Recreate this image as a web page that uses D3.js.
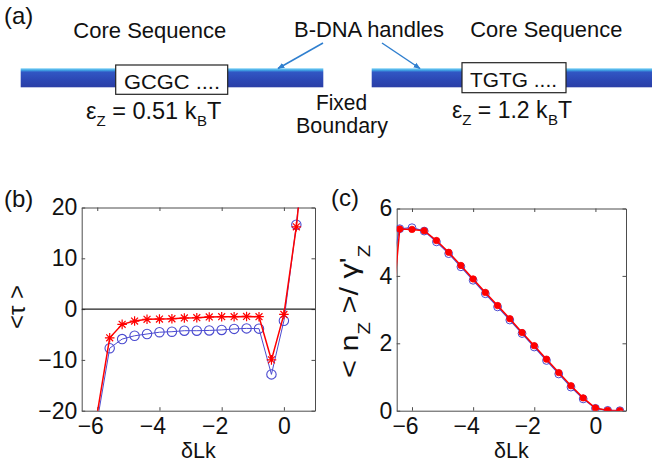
<!DOCTYPE html>
<html><head><meta charset="utf-8">
<script src="https://cdn.jsdelivr.net/npm/d3@7"></script>
<style>
body{margin:0;background:#fff}
svg{display:block}
text{font-family:"Liberation Sans",Arial,Helvetica,sans-serif;fill:#111}
</style>
</head><body>
<svg id="fig" width="652" height="463"></svg>
<script>
// ---------------- data ----------------
const panelLabels = ["(a)", "(b)", "(c)"];
const xLabel = "δLk";
const xTicks = [-6, -4, -2, 0];
const yTicksB = [-20, -10, 0, 10, 20];
const yTicksC = [0, 2, 4, 6];

// panel (b): <tau> vs dLk
const lkB = [-6.0, -5.6, -5.2, -4.8, -4.4, -4.0, -3.6, -3.2, -2.8, -2.4, -2.0, -1.6, -1.2, -0.8, -0.4, 0.0, 0.4, 0.8];
const tauRed = [-20.5, -5.65, -3.0, -2.35, -2.0, -1.95, -1.9, -1.75, -1.7, -1.55, -1.5, -1.5, -1.45, -1.5, -10.0, -1.05, 16.2, 40];
const tauBlue = [-22, -7.7, -5.9, -5.25, -4.9, -4.55, -4.45, -4.25, -4.25, -4.2, -4.1, -3.9, -3.8, -3.85, -12.85, -2.3, 16.6, 40];

// panel (c): <n_Z>/gamma'_Z vs dLk
const lkC = [-6.8, -6.4, -6.0, -5.6, -5.2, -4.8, -4.4, -4.0, -3.6, -3.2, -2.8, -2.4, -2.0, -1.6, -1.2, -0.8, -0.4, 0.0, 0.4, 0.8];
const nzRed = [1.43, 5.39, 5.38, 5.34, 5.05, 4.70, 4.31, 3.91, 3.51, 3.12, 2.73, 2.32, 1.93, 1.53, 1.13, 0.74, 0.38, 0.08, 0.01, 0.0];
const nzBlue = [3.8, 5.40, 5.43, 5.33, 5.01, 4.66, 4.27, 3.87, 3.47, 3.08, 2.69, 2.29, 1.89, 1.49, 1.09, 0.70, 0.35, 0.07, 0.01, 0.0];

// panel (a) texts
const coreLabel = "Core Sequence";
const handleLabel = "B-DNA handles";
const seqLeft = "GCGC ....";
const seqRight = "TGTG ....";
const boundaryLines = ["Fixed", "Boundary"];
const energyLeft = "0.51";
const energyRight = "1.2";

// ---------------- drawing ----------------
const svg = d3.select("#fig");
const RED = "#ff0000", BLUE = "#4b4bd0", AX = "#4d4d4d";
const FONT = '"Liberation Sans",Arial,Helvetica,sans-serif';
const TICKFONT = 23;

const defs = svg.append("defs");
const grad = defs.append("linearGradient").attr("id", "dna").attr("x1", 0).attr("y1", 0).attr("x2", 0).attr("y2", 1);
[[0, "#7fd2f5"], [0.1, "#3fa6e6"], [0.2, "#3157c4"], [0.6, "#2c48b5"], [1, "#2a3ea6"]]
  .forEach(([o, c]) => grad.append("stop").attr("offset", o).attr("stop-color", c));
defs.append("marker").attr("id", "arr").attr("viewBox", "0 0 10 10").attr("refX", 9).attr("refY", 5)
  .attr("markerWidth", 7).attr("markerHeight", 7).attr("orient", "auto").attr("markerUnits", "userSpaceOnUse")
  .append("path").attr("d", "M0,1 L10,5 L0,9 Z").attr("fill", "#2f7fcf");

// ----- panel (a) -----
const A = svg.append("g");
A.append("text").attr("x", 4).attr("y", 24).attr("font-size", 24).text(panelLabels[0]);
A.append("rect").attr("x", 20.7).attr("y", 68.3).attr("width", 302.6).attr("height", 19).attr("fill", "url(#dna)");
A.append("rect").attr("x", 371.7).attr("y", 68.3).attr("width", 281).attr("height", 19).attr("fill", "url(#dna)");
A.append("rect").attr("x", 115.7).attr("y", 65).attr("width", 112).attr("height", 29.3).attr("fill", "#fff").attr("stroke", "#222").attr("stroke-width", 1.2);
A.append("rect").attr("x", 462).attr("y", 62.7).attr("width", 104).attr("height", 30).attr("fill", "#fff").attr("stroke", "#222").attr("stroke-width", 1.2);
A.append("line").attr("x1", 323).attr("y1", 43).attr("x2", 278).attr("y2", 68.5).attr("stroke", "#2f7fcf").attr("stroke-width", 1.5).attr("marker-end", "url(#arr)");
A.append("line").attr("x1", 382).attr("y1", 43).attr("x2", 420).attr("y2", 68.5).attr("stroke", "#2f7fcf").attr("stroke-width", 1.5).attr("marker-end", "url(#arr)");

function fitText(g, x, y, size, str, len) {
  g.append("text").attr("x", x).attr("y", y).attr("font-size", size)
    .attr("textLength", len).attr("lengthAdjust", "spacingAndGlyphs").text(str);
}
fitText(A, 73.3, 37.5, 22.5, coreLabel, 153);
fitText(A, 294, 37, 22.5, handleLabel, 150);
fitText(A, 470.3, 37, 22.5, coreLabel, 152);
fitText(A, 124, 89.3, 20, seqLeft, 96);
fitText(A, 470, 87.3, 20, seqRight, 87);
fitText(A, 316, 110, 22.5, boundaryLines[0], 51);
fitText(A, 296, 133.3, 22.5, boundaryLines[1], 92);

function energy(x, y, val, size) {
  const t = A.append("text").attr("x", x).attr("y", y).attr("font-size", size);
  t.append("tspan").text("ε");
  t.append("tspan").attr("font-size", 15).attr("dy", 7).text("Z");
  t.append("tspan").attr("dy", -7).text(" = " + val + " k");
  t.append("tspan").attr("font-size", 15).attr("dy", 7).attr("dx", 0.5).text("B");
  t.append("tspan").attr("dy", -7).text("T");
}
energy(86, 119, energyLeft, 23.5);
energy(452, 118, energyRight, 23);

// ----- generic axes panel -----
function panel(cfg) {
  const g = svg.append("g");
  const x = d3.scaleLinear().domain([-6.5, 1]).range([cfg.left, cfg.right]);
  const y = d3.scaleLinear().domain(cfg.ydom).range([cfg.bottom, cfg.top]);
  const T = 3.5;
  const fmt = d3.format("d");
  const style = sel => {
    sel.attr("font-family", FONT).attr("font-size", TICKFONT);
    sel.selectAll("path,line").attr("stroke", AX).attr("stroke-width", 1);
    sel.selectAll("text").attr("fill", "#111");
  };
  g.append("g").attr("transform", `translate(0,${cfg.bottom})`)
    .call(d3.axisBottom(x).tickValues(xTicks).tickFormat(fmt).tickSize(-T).tickSizeOuter(0).tickPadding(6.5))
    .call(style)
    .call(s => s.selectAll(".tick text").attr("dx", d => d < 0 ? -7 : 0));
  g.append("g").attr("transform", `translate(0,${cfg.top})`)
    .call(d3.axisTop(x).tickValues(xTicks).tickSize(-T).tickSizeOuter(0).tickFormat(""))
    .call(style);
  g.append("g").attr("transform", `translate(${cfg.left},0)`)
    .call(d3.axisLeft(y).tickValues(cfg.yticks).tickFormat(fmt).tickSize(-T).tickSizeOuter(0).tickPadding(4.4))
    .call(style);
  g.append("g").attr("transform", `translate(${cfg.right},0)`)
    .call(d3.axisRight(y).tickValues(cfg.yticks).tickSize(-T).tickSizeOuter(0).tickFormat(""))
    .call(style);

  const clipId = "clip" + cfg.name;
  defs.append("clipPath").attr("id", clipId).append("rect")
    .attr("x", cfg.left).attr("y", cfg.top).attr("width", cfg.right - cfg.left).attr("height", cfg.bottom - cfg.top);
  const plot = g.append("g").attr("clip-path", `url(#${clipId})`);

  g.append("text").attr("x", cfg.labelX).attr("y", cfg.labelY).attr("font-size", 24).text(cfg.label);
  g.append("text").attr("x", (cfg.left + cfg.right) / 2).attr("y", 458.3).attr("text-anchor", "middle").attr("font-size", 21.5).text(xLabel);
  return {g, x, y, plot};
}

function inside(x, y, xv, yv) {
  const [x0, x1] = x.domain(), [y0, y1] = y.domain();
  return xv >= x0 && xv <= x1 && yv >= y0 && yv <= y1;
}

// ----- panel (b) -----
const PB = panel({name: "b", left: 81.7, right: 315, top: 207.5, bottom: 410.7, ydom: [-20, 20], yticks: yTicksB,
  label: panelLabels[1], labelX: 4, labelY: 207.3});
PB.plot.append("line").attr("x1", PB.x(-6.5)).attr("x2", PB.x(1)).attr("y1", PB.y(0)).attr("y2", PB.y(0))
  .attr("stroke", "#222").attr("stroke-width", 1.1);
const lineB = d3.line().x(d => PB.x(d[0])).y(d => PB.y(d[1]));
const blueB = lkB.map((v, i) => [v, tauBlue[i]]);
const redB = lkB.map((v, i) => [v, tauRed[i]]);
PB.plot.append("path").attr("d", lineB(blueB)).attr("fill", "none").attr("stroke", BLUE).attr("stroke-width", 1);
PB.plot.selectAll("circle.b").data(blueB.filter(d => inside(PB.x, PB.y, d[0], d[1]))).join("circle")
  .attr("cx", d => PB.x(d[0])).attr("cy", d => PB.y(d[1])).attr("r", 4.7)
  .attr("fill", "none").attr("stroke", BLUE).attr("stroke-width", 1.1);
PB.plot.append("path").attr("d", lineB(redB)).attr("fill", "none").attr("stroke", RED).attr("stroke-width", 1.5);
const r = 4.8, k = r * 0.72;
const star = `M${-r},0H${r}M0,${-r}V${r}M${-k},${-k}L${k},${k}M${-k},${k}L${k},${-k}`;
PB.plot.selectAll("path.s").data(redB.filter(d => inside(PB.x, PB.y, d[0], d[1]))).join("path")
  .attr("transform", d => `translate(${PB.x(d[0])},${PB.y(d[1])})`).attr("d", star)
  .attr("fill", "none").attr("stroke", RED).attr("stroke-width", 1.2);

// y label (b)
svg.append("text").attr("transform", "translate(25,307) rotate(-90)")
  .attr("text-anchor", "middle").attr("font-size", 24).text("<τ >");

// ----- panel (c) -----
const PC = panel({name: "c", left: 396.7, right: 626, top: 208.5, bottom: 410.7, ydom: [0, 6], yticks: yTicksC,
  label: panelLabels[2], labelX: 331, labelY: 205.6});
const lineC = d3.line().x(d => PC.x(d[0])).y(d => PC.y(d[1]));
const blueC = lkC.map((v, i) => [v, nzBlue[i]]);
const redC = lkC.map((v, i) => [v, nzRed[i]]);
PC.plot.append("path").attr("d", lineC(blueC)).attr("fill", "none").attr("stroke", BLUE).attr("stroke-width", 1.2);
PC.plot.selectAll("circle.b").data(blueC.filter(d => inside(PC.x, PC.y, d[0], d[1]))).join("circle")
  .attr("cx", d => PC.x(d[0])).attr("cy", d => PC.y(d[1])).attr("r", 3.9)
  .attr("fill", "none").attr("stroke", BLUE).attr("stroke-width", 1);
PC.plot.append("path").attr("d", lineC(redC)).attr("fill", "none").attr("stroke", RED).attr("stroke-width", 1.5);
PC.plot.selectAll("circle.r").data(redC.filter(d => inside(PC.x, PC.y, d[0], d[1]))).join("circle")
  .attr("cx", d => PC.x(d[0])).attr("cy", d => PC.y(d[1])).attr("r", 3.2)
  .attr("fill", RED).attr("stroke", RED).attr("stroke-width", 0.8);

// y label (c)
const ylc = svg.append("text").attr("transform", "translate(358,311.5) rotate(-90)")
  .attr("text-anchor", "middle").attr("font-size", 26)
  .attr("textLength", 133).attr("lengthAdjust", "spacingAndGlyphs");
ylc.append("tspan").text("< n");
ylc.append("tspan").attr("font-size", 17).attr("dy", 12).text("Z");
ylc.append("tspan").attr("dy", -12).text(" >/ γ'");
ylc.append("tspan").attr("font-size", 17).attr("dy", 12).text("Z");
</script>
</body></html>
